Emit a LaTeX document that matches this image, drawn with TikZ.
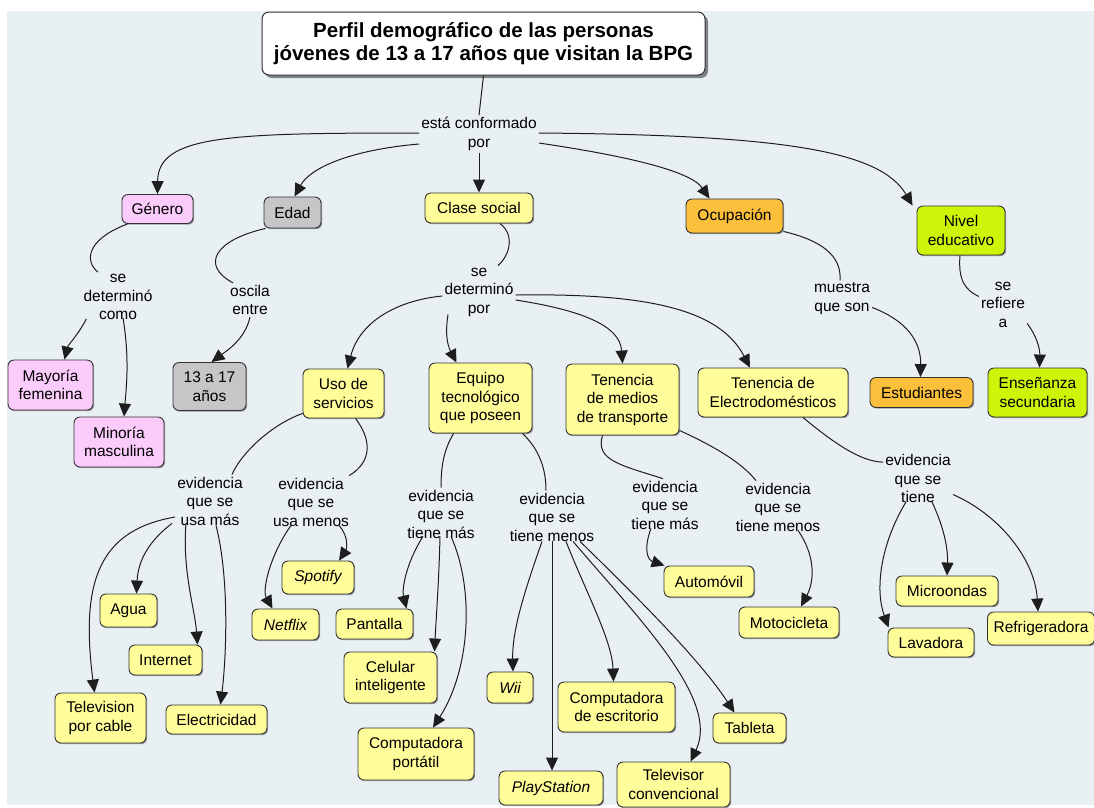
\documentclass[tikz,border=0pt]{standalone}
\usepackage{fontspec}
\setmainfont{Liberation Sans}
\usetikzlibrary{arrows.meta,shadows}
\definecolor{bgc}{HTML}{E9F0F3}
\definecolor{yel}{HTML}{FFFD9A}
\definecolor{pnk}{HTML}{FBCBFB}
\definecolor{gry}{HTML}{C6C6C6}
\definecolor{org}{HTML}{FBBF3B}
\definecolor{grn}{HTML}{CCF50A}
\definecolor{bord}{HTML}{333333}
\definecolor{lin}{HTML}{1E1E1E}
\begin{document}
\begin{tikzpicture}[x=1pt,y=-1pt,
  cbox/.style={draw=bord, line width=0.9pt, rounded corners=6pt, align=center, inner sep=2pt,
    font=\fontsize{15.5}{18.5}\selectfont, text=black,
    drop shadow={shadow xshift=1.2pt,shadow yshift=-1.2pt,fill=black,opacity=0.35}},
  sz/.style 2 args={minimum width=#1pt, minimum height=#2pt},
  yb/.style={cbox, fill=yel},
  pb/.style={cbox, fill=pnk},
  gb/.style={cbox, fill=gry},
  ob/.style={cbox, fill=org},
  nb/.style={cbox, fill=grn},
  lbl/.style={align=center, inner sep=2pt, font=\fontsize{15.5}{18.5}\selectfont, text=black},
  conn/.style={draw=lin, line width=1pt},
  arr/.style={conn, -{Triangle[length=13pt,width=12pt]}},
]
\useasboundingbox (0,0) rectangle (1094,807);
\fill[bgc] (7,11) rectangle (1094,805);

% title
\node[draw=bord, line width=1pt, fill=white, rounded corners=7pt, align=center,
  font=\fontsize{20.5}{23}\selectfont\bfseries, sz={443}{63},
  drop shadow={shadow xshift=3pt,shadow yshift=-3pt,fill=black,opacity=0.45}]
  (title) at (483.5,43.5) {Perfil demográfico de las personas\\jóvenes de 13 a 17 años que visitan la BPG};

% level 1
\node[lbl] (lk1) at (479,134) {está conformado\\por};
\node[pb, sz={71}{29}] (gen) at (157.5,209) {Género};
\node[gb, sz={57}{31}] (edad) at (292.5,212.5) {Edad};
\node[yb, sz={108}{30}] (clase) at (479,208) {Clase social};
\node[ob, sz={97}{34}] (ocup) at (734.5,216) {Ocupación};
\node[nb, sz={88}{49}] (nivel) at (961,230.5) {Nivel\\educativo};

% level 2 labels
\node[lbl] (lk2) at (118,297) {se\\determinó\\como};
\node[lbl] (lk3) at (250,300) {oscila\\entre};
\node[lbl] (lk4) at (479,292) {se\\determinó\\por};
\node[lbl] (lk5) at (842,298.5) {muestra\\que son};
\node[lbl] (lk6) at (1003,304.5) {se\\refiere\\a};

% level 2 concepts
\node[pb, sz={85}{50}] (may) at (50.5,385) {Mayoría\\femenina};
\node[pb, sz={90}{50}] (min) at (119,442) {Minoría\\masculina};
\node[gb, sz={73}{48}] (anos) at (209.5,386.5) {13 a 17\\años};
\node[yb, sz={81}{49}] (uso) at (343.5,393.5) {Uso de\\servicios};
\node[yb, sz={103}{70}] (equipo) at (480.5,398) {Equipo\\tecnológico\\que poseen};
\node[yb, sz={113}{71}] (transp) at (622.5,399.5) {Tenencia\\de medios\\de transporte};
\node[yb, sz={150}{49}] (electro) at (773,392.5) {Tenencia de\\Electrodomésticos};
\node[ob, sz={103}{30}] (estud) at (921.5,392.5) {Estudiantes};
\node[nb, sz={99}{49}] (ense) at (1037.5,392.5) {Enseñanza\\secundaria};

% level 3 labels
\node[lbl] (lk7) at (210,501) {evidencia\\que se\\usa más};
\node[lbl] (lk8) at (311,502) {evidencia\\que se\\usa menos};
\node[lbl] (lk9) at (441,514) {evidencia\\que se\\tiene más};
\node[lbl] (lk10) at (552,517) {evidencia\\que se\\tiene menos};
\node[lbl] (lk11) at (665,505) {evidencia\\que se\\tiene más};
\node[lbl] (lk12) at (778,507) {evidencia\\que se\\tiene menos};
\node[lbl] (lk13) at (918,478.5) {evidencia\\que se\\tiene};

% leaves
\node[yb, sz={91}{50}] (tv) at (100.5,718) {Television\\por cable};
\node[yb, sz={57}{33}] (agua) at (128.5,610.5) {Agua};
\node[yb, sz={73}{30}] (inter) at (165.5,660) {Internet};
\node[yb, sz={101}{29}] (elec) at (216.5,719.5) {Electricidad};
\node[yb, sz={67}{31}, font=\fontsize{15.5}{18.5}\selectfont\itshape] (netf) at (285.5,624.5) {Netflix};
\node[yb, sz={72}{33}, font=\fontsize{15.5}{18.5}\selectfont\itshape] (spot) at (318,577.5) {Spotify};
\node[yb, sz={77}{30}] (pant) at (374.5,624) {Pantalla};
\node[yb, sz={93}{51}] (cel) at (390.5,677.5) {Celular\\inteligente};
\node[yb, sz={116}{52}] (port) at (416,754) {Computadora\\portátil};
\node[yb, sz={46}{31}, font=\fontsize{15.5}{18.5}\selectfont\itshape] (wii) at (510,687.5) {Wii};
\node[yb, sz={104}{34}, font=\fontsize{15.5}{18.5}\selectfont\itshape] (play) at (551,788) {PlayStation};
\node[yb, sz={117}{50}] (escr) at (616.5,707) {Computadora\\de escritorio};
\node[yb, sz={113}{45}] (telev) at (673.5,784.5) {Televisor\\convencional};
\node[yb, sz={73}{30}] (tab) at (749.5,728) {Tableta};
\node[yb, sz={90}{31}] (auto) at (709,581.5) {Automóvil};
\node[yb, sz={100}{31}] (moto) at (789,622.5) {Motocicleta};
\node[yb, sz={86}{29}] (lav) at (931,642.5) {Lavadora};
\node[yb, sz={102}{30}] (micro) at (947,591) {Microondas};
\node[yb, sz={107}{33}] (refr) at (1041,628.5) {Refrigeradora};

% connectors: title
\draw[conn] (title.south) -- (lk1.north);
\draw[arr] ([yshift=1pt]lk1.west) .. controls (230,133) and (158,135) .. (gen.north);
\draw[arr] ([yshift=-10pt]lk1.west) .. controls (350,150) and (310,168) .. ([xshift=2pt]edad.north);
\draw[arr] (lk1.south) -- (clase.north);
\draw[arr] ([yshift=-9pt]lk1.east) .. controls (620,155) and (690,170) .. ([xshift=-25pt]ocup.north);
\draw[arr] ([yshift=1pt]lk1.east) .. controls (780,135) and (880,150) .. ([xshift=-4pt]nivel.north west);

% genero
\draw[conn] ([xshift=-30pt]gen.south) .. controls (85,240) and (85,262) .. ([xshift=-20pt]lk2.north);
\draw[arr] ([xshift=5pt,yshift=3pt]lk2.south west) .. controls (78,335) and (68,345) .. ([xshift=14pt]may.north);
\draw[arr] ([xshift=5pt,yshift=4pt]lk2.south) .. controls (130,360) and (126,390) .. ([xshift=5pt]min.north);

% edad
\draw[conn] ([xshift=-27pt]edad.south) .. controls (215,240) and (200,265) .. ([xshift=-17pt]lk3.north);
\draw[arr] (lk3.south) .. controls (245,340) and (225,352) .. ([xshift=2pt]anos.north);

% clase social
\draw[conn] ([xshift=21pt]clase.south) .. controls (515,235) and (510,255) .. ([xshift=19pt]lk4.north);
\draw[arr] ([yshift=-4pt]lk4.west) .. controls (400,300) and (360,320) .. ([xshift=4pt]uso.north);
\draw[arr] ([xshift=-31pt,yshift=4pt]lk4.south) .. controls (444,340) and (450,350) .. ([xshift=-24pt]equipo.north);
\draw[arr] ([yshift=-8pt]lk4.east) .. controls (580,310) and (620,325) .. (transp.north);
\draw[arr] ([yshift=-3pt]lk4.east) .. controls (650,293) and (720,310) .. ([xshift=-23pt]electro.north);

% ocupacion
\draw[conn] ([yshift=2pt]ocup.south east) .. controls (820,240) and (842,255) .. ([xshift=-2pt]lk5.north);
\draw[arr] ([yshift=-9pt]lk5.east) .. controls (905,320) and (921,340) .. ([xshift=-1pt]estud.north);

% nivel
\draw[conn] ([xshift=-1pt]nivel.south) .. controls (958,280) and (965,290) .. ([yshift=8pt]lk6.west);
\draw[arr] ([yshift=6pt]lk6.south east) .. controls (1036,335) and (1040,348) .. ([xshift=2pt]ense.north);

% uso de servicios
\draw[conn] ([yshift=5pt]uso.south west) .. controls (270,425) and (240,455) .. ([xshift=22pt]lk7.north);
\draw[conn] ([xshift=12pt]uso.south) .. controls (372,440) and (372,462) .. ([xshift=-2pt]lk8.north east);
\draw[arr] ([yshift=-16pt]lk7.west) .. controls (100,530) and (80,580) .. ([xshift=-6pt]tv.north);
\draw[arr] ([xshift=-38pt,yshift=4pt]lk7.south) .. controls (150,540) and (138,560) .. ([xshift=8pt]agua.north);
\draw[arr] ([xshift=-24pt,yshift=4pt]lk7.south) .. controls (182,570) and (195,610) .. ([xshift=32pt]inter.north);
\draw[arr] ([xshift=6pt,yshift=2pt]lk7.south) .. controls (230,580) and (226,660) .. ([xshift=4pt]elec.north);
\draw[arr] ([xshift=-20pt,yshift=3pt]lk8.south) .. controls (270,555) and (262,590) .. ([xshift=-13pt]netf.north);
\draw[arr] ([xshift=28pt,yshift=3pt]lk8.south) .. controls (350,538) and (346,550) .. ([xshift=21pt]spot.north);

% equipo
\draw[conn] ([xshift=-27pt]equipo.south) .. controls (444,450) and (441,465) .. (lk9.north);
\draw[conn] ([xshift=42pt]equipo.south) .. controls (540,450) and (546,470) .. ([xshift=-6pt]lk10.north);
\draw[arr] ([xshift=-18pt,yshift=4pt]lk9.south) .. controls (405,565) and (402,590) .. ([xshift=32pt]pant.north);
\draw[arr] ([xshift=-1pt,yshift=4pt]lk9.south) .. controls (439,580) and (436,620) .. ([xshift=44pt]cel.north);
\draw[arr] ([xshift=10pt,yshift=4pt]lk9.south) .. controls (475,590) and (470,670) .. ([xshift=17pt]port.north);
\draw[arr] ([xshift=-10pt,yshift=2pt]lk10.south) .. controls (525,590) and (512,630) .. ([xshift=3pt]wii.north);
\draw[arr] ([yshift=2pt]lk10.south) -- ([xshift=1pt]play.north);
\draw[arr] ([xshift=14pt,yshift=2pt]lk10.south) .. controls (585,590) and (612,640) .. ([xshift=-3pt]escr.north);
\draw[arr] ([xshift=21pt,yshift=2pt]lk10.south) .. controls (640,620) and (720,700) .. ([xshift=17pt]telev.north);
\draw[arr] ([xshift=28pt,yshift=2pt]lk10.south) .. controls (640,600) and (700,660) .. ([xshift=-15pt]tab.north);

% transporte
\draw[conn] ([xshift=-20pt]transp.south) .. controls (595,460) and (620,465) .. ([xshift=-2pt]lk11.north);
\draw[conn] ([yshift=5pt]transp.south east) .. controls (705,442) and (740,460) .. ([xshift=-22pt]lk12.north);
\draw[arr] ([xshift=-14pt,yshift=3pt]lk11.south) .. controls (643,550) and (648,560) .. ([xshift=1pt]auto.north west);
\draw[arr] ([xshift=20pt,yshift=3pt]lk12.south) .. controls (815,555) and (815,580) .. ([xshift=12pt]moto.north);

% electrodomesticos
\draw[conn] ([xshift=30pt]electro.south) .. controls (830,440) and (860,462) .. ([yshift=-10pt]lk13.north west);
\draw[arr] ([xshift=-12pt,yshift=3pt]lk13.south) .. controls (880,545) and (875,590) .. ([xshift=1pt]lav.north west);
\draw[arr] ([xshift=14pt,yshift=3pt]lk13.south) .. controls (945,530) and (948,550) .. (micro.north);
\draw[arr] ([yshift=-16pt]lk13.east) .. controls (1000,515) and (1035,560) .. ([xshift=-3pt]refr.north);
\end{tikzpicture}
\end{document}
